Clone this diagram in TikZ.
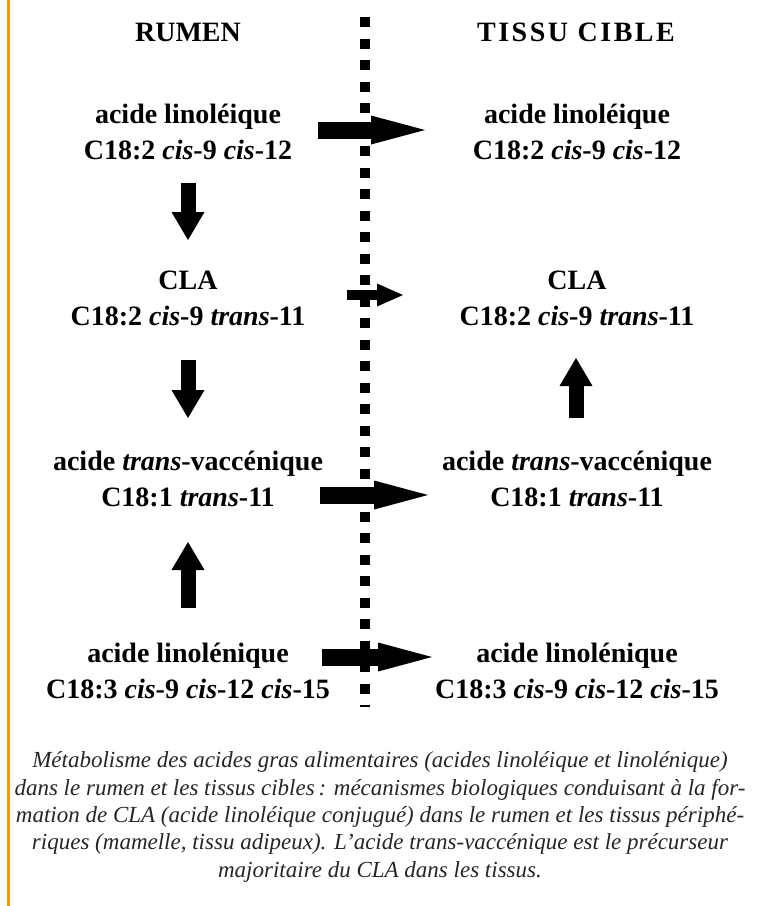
\documentclass[tikz,border=0pt]{standalone}
\usepackage{fontspec}
\setmainfont{Liberation Serif}
\usepackage{tikz}
\usetikzlibrary{arrows.meta,positioning,calc}

\begin{document}
\begin{tikzpicture}[x=1pt, y=-1pt,
    acid/.style={font=\fontsize{28}{36}\selectfont\bfseries, align=center, inner sep=0pt},
    head/.style={font=\fontsize{28}{30}\selectfont\bfseries, inner sep=0pt},
    hfat/.style={line width=17pt, -{Triangle[width=29pt, length=54pt, line width=0pt]}},
    hthin/.style={line width=10pt, -{Triangle[width=23pt, length=26pt, line width=0pt]}},
    vfat/.style={line width=15pt, -{Triangle[width=33pt, length=28pt, line width=0pt]}},
    sep/.style={line width=10pt, dash pattern=on 10pt off 11.5pt},
    legende/.style={font=\fontsize{23}{27.3}\selectfont\itshape, text=black!85, align=center, inner sep=0pt}
]
\useasboundingbox (0,0) rectangle (776,906);
\draw[orange!80!yellow, line width=3pt] (8.5,0) -- (8.5,906);

\node[head] (rumen) at (188,32) {RUMEN};
\node[head] (tissu) at (576,32) {\addfontfeature{LetterSpace=9}TISSU CIBLE};

\node[acid] (lA) at (188,132) {acide linoléique\\C18:2 \textit{cis}-9 \textit{cis}-12};
\node[acid] (lB) at (188,298) {CLA\\C18:2 \textit{cis}-9 \textit{trans}-11};
\node[acid] (lC) at (188,479) {acide \textit{trans}-vaccénique\\C18:1 \textit{trans}-11};
\node[acid] (lD) at (188,671) {acide linolénique\\C18:3 \textit{cis}-9 \textit{cis}-12 \textit{cis}-15};

\node[acid] (rA) at (577,132) {acide linoléique\\C18:2 \textit{cis}-9 \textit{cis}-12};
\node[acid] (rB) at (577,298) {CLA\\C18:2 \textit{cis}-9 \textit{trans}-11};
\node[acid] (rC) at (577,479) {acide \textit{trans}-vaccénique\\C18:1 \textit{trans}-11};
\node[acid] (rD) at (577,671) {acide linolénique\\C18:3 \textit{cis}-9 \textit{cis}-12 \textit{cis}-15};

% end points of the fat arrows
\coordinate (h1s) at (318,130); \coordinate (h1e) at (425,130);
\coordinate (h2s) at (347,295); \coordinate (h2e) at (403,295);
\coordinate (h3s) at (320,495); \coordinate (h3e) at (428,495);
\coordinate (h4s) at (322,657); \coordinate (h4e) at (432,657);
\coordinate (v1s) at (188,183); \coordinate (v1e) at (188,240);
\coordinate (v2s) at (188,360); \coordinate (v2e) at (188,418);
\coordinate (v3s) at (188,608); \coordinate (v3e) at (188,542);
\coordinate (v4s) at (576,418); \coordinate (v4e) at (576,358);
\coordinate (top) at (365,17); \coordinate (bot) at (365,707);

\draw[hfat] (h1s) -- (h1e);
\draw[hthin] (h2s) -- (h2e);
\draw[hfat] (h3s) -- (h3e);
\draw[hfat] (h4s) -- (h4e);
\draw[vfat] (v1s) -- (v1e);
\draw[vfat] (v2s) -- (v2e);
\draw[vfat] (v3s) -- (v3e);
\draw[vfat] (v4s) -- (v4e);
\draw[sep] (top) -- (bot);

\node[legende] (caption) at (380,817) {Métabolisme des acides gras alimentaires (acides linoléique et linolénique)\\
dans le rumen et les tissus cibles\,: mécanismes biologiques conduisant à la for-\\
mation de CLA (acide linoléique conjugué) dans le rumen et les tissus périphé-\\
riques (mamelle, tissu adipeux). L’acide trans-vaccénique est le précurseur\\
majoritaire du CLA dans les tissus.};
\end{tikzpicture}
\end{document}
